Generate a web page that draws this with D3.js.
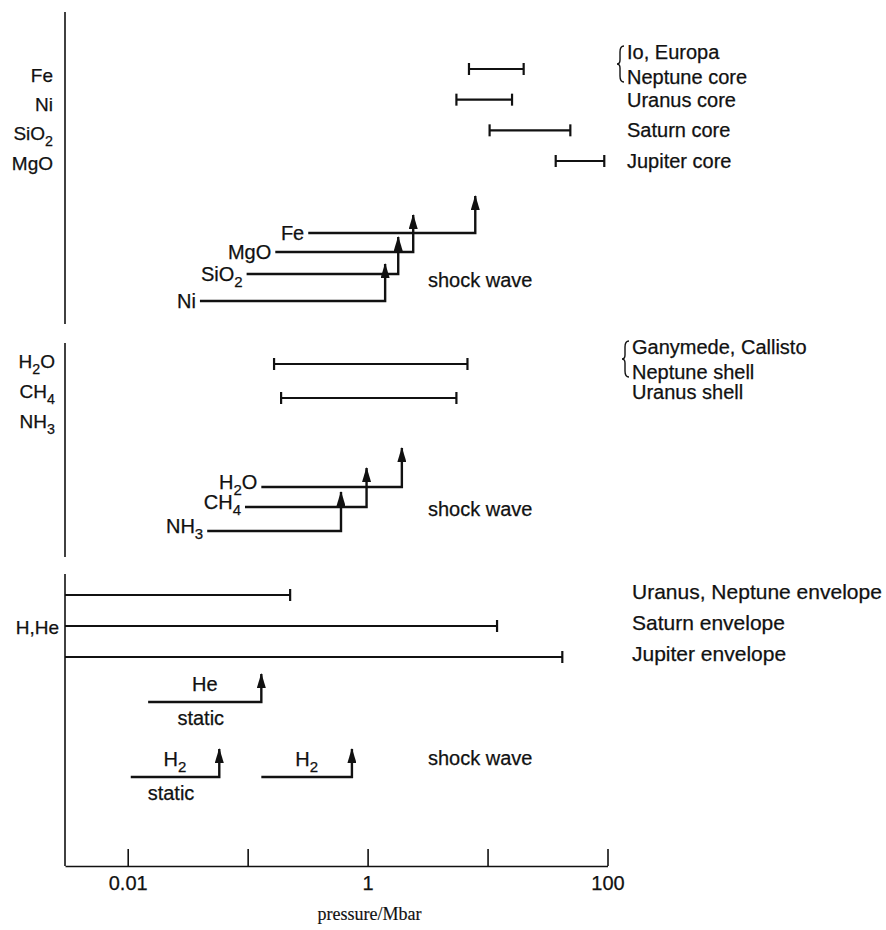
<!DOCTYPE html>
<html>
<head>
<meta charset="utf-8">
<script src="https://cdn.jsdelivr.net/npm/d3@7"></script>
<style>
body { margin: 0; background: #fff; }
svg text { font-family: 'Liberation Sans', Arial, sans-serif; fill: #111; stroke: #111; stroke-width: 0.25px; }
</style>
</head>
<body>
<div id="app"></div>
<script>
// values, pressure in Mbar
const xTicks = [0.01, 0.1, 1, 10, 100];
const xTickLabels = ['0.01', '', '1', '', '100'];

const coreMaterials = ['Fe', 'Ni', 'SiO2', 'MgO'];
const coreBodies = [['Io, Europa', 'Neptune core'], ['Uranus core'], ['Saturn core'], ['Jupiter core']];
const coreLow = [7, 5.5, 10.4, 37];
const coreHigh = [20, 16, 49, 94];
const coreShockNames = ['Fe', 'MgO', 'SiO2', 'Ni'];
const coreShockFrom = [0.32, 0.17, 0.098, 0.04];
const coreShockTo = [7.9, 2.4, 1.8, 1.4];

const shellMaterials = ['H2O', 'CH4', 'NH3'];
const shellBodies = [['Ganymede, Callisto', 'Neptune shell'], ['Uranus shell']];
const shellLow = [0.166, 0.19];
const shellHigh = [6.8, 5.5];
const shellShockNames = ['H2O', 'CH4', 'NH3'];
const shellShockFrom = [0.13, 0.095, 0.046];
const shellShockTo = [1.93, 0.98, 0.6];

const envMaterials = ['H,He'];
const envBodies = [['Uranus, Neptune envelope'], ['Saturn envelope'], ['Jupiter envelope']];
const envHigh = [0.226, 12, 42];
const envExpNames = ['He', 'H2', 'H2'];
const envExpKind = ['static', 'static', 'shock'];
const envExpFrom = [0.0148, 0.0106, 0.13];
const envExpTo = [0.13, 0.058, 0.74];

const width = 886;
const height = 930;
const ink = '#111';

const x = d3.scaleLog().domain([0.003, 100]).range([65, 607.5]);

const svg = d3.create('svg')
  .attr('width', width)
  .attr('height', height)
  .attr('viewBox', [0, 0, width, height]);

svg.append('rect').attr('width', width).attr('height', height).attr('fill', '#fff');

svg.append('defs').append('marker')
  .attr('id', 'head')
  .attr('viewBox', '0 -4.5 15 9')
  .attr('markerUnits', 'userSpaceOnUse')
  .attr('markerWidth', 15)
  .attr('markerHeight', 9)
  .attr('refX', 14)
  .attr('refY', 0)
  .attr('orient', 'auto')
  .append('path')
  .attr('d', 'M0,-4.5L15,0L0,4.5Z')
  .attr('fill', ink);

// chemical formula with subscript digits
function formula(text, str, size) {
  const parts = str.match(/[0-9]+|[^0-9]+/g);
  let low = false;
  parts.forEach((p)=>{
    const t = text.append('tspan').text(p);
    if (/^[0-9]+$/.test(p)) {
      t.attr('font-size', size * 0.75).attr('dy', size * 0.32);
      low = true;
    } else if (low) {
      t.attr('dy', -size * 0.32);
      low = false;
    }
  });
  return text;
}

function label(g, px, py, str, anchor, size) {
  const t = g.append('text')
    .attr('x', px)
    .attr('y', py)
    .attr('dy', '0.35em')
    .attr('text-anchor', anchor)
    .attr('font-size', size);
  return formula(t, str, size);
}

function brace(g, bx, y1, y2) {
  const m = (y1 + y2) / 2;
  g.append('path')
    .attr('d', `M${bx + 4},${y1} Q${bx},${y1} ${bx},${y1 + 6} L${bx},${m - 4} Q${bx},${m} ${bx - 3},${m} Q${bx},${m} ${bx},${m + 4} L${bx},${y2 - 6} Q${bx},${y2} ${bx + 4},${y2}`)
    .attr('fill', 'none')
    .attr('stroke', ink)
    .attr('stroke-width', 1.4);
}

function rangeBar(g, x0, x1, py, capLeft) {
  g.append('line').attr('x1', x0).attr('x2', x1).attr('y1', py).attr('y2', py);
  if (capLeft) g.append('line').attr('x1', x0).attr('x2', x0).attr('y1', py - 6).attr('y2', py + 6);
  g.append('line').attr('x1', x1).attr('x2', x1).attr('y1', py - 6).attr('y2', py + 6);
}

function arrow(g, x0, x1, py, len) {
  g.append('path')
    .attr('d', `M${x0},${py}H${x1}V${py - len}`)
    .attr('fill', 'none')
    .attr('marker-end', 'url(#head)');
}

function bodyLabels(g, bodies, rowY, bx, dy, size) {
  bodies.forEach((lines, i)=>{
    const cy = rowY(i);
    if (lines.length === 2) {
      const c = cy - 5;
      label(g, bx, c - 12.5, lines[0], 'start', size);
      label(g, bx, c + 12.5, lines[1], 'start', size);
      brace(g, bx - 7, c - 18, c + 18);
    } else {
      label(g, bx, cy + dy, lines[0], 'start', size);
    }
  });
}

const sections = [
  {
    axis: [12, 324],
    materials: coreMaterials, matY: [75, 163], matX: 53,
    bodies: coreBodies, low: coreLow, high: coreHigh, rowY: [69, 161], bodyX: 627, bodyDy: 0,
    shock: coreShockNames, from: coreShockFrom, to: coreShockTo,
    shockY: [233, 252, 274, 301], arrowLen: 37, shockDy: 0, shockTextY: 280,
  },
  {
    axis: [343, 557],
    materials: shellMaterials, matY: [361, 421], matX: 55,
    bodies: shellBodies, low: shellLow, high: shellHigh, rowY: [364, 398], bodyX: 632, bodyDy: -6,
    shock: shellShockNames, from: shellShockFrom, to: shellShockTo,
    shockY: [487, 507, 531], arrowLen: 39, shockDy: -5, shockTextY: 509,
  },
];

const marks = svg.append('g');

sections.forEach((s)=>{
  const g = marks.append('g');
  g.append('line')
    .attr('x1', x.range()[0]).attr('x2', x.range()[0])
    .attr('y1', s.axis[0]).attr('y2', s.axis[1])
    .attr('stroke', ink).attr('stroke-width', 1.6);

  const matY = d3.scalePoint().domain(s.materials).range(s.matY);
  s.materials.forEach((m)=>label(g, s.matX, matY(m), m, 'end', 19));

  const rowY = d3.scalePoint().domain(d3.range(s.bodies.length)).range(s.rowY);
  const bars = g.append('g').attr('stroke', ink).attr('stroke-width', 2.2);
  s.low.forEach((v, i)=>rangeBar(bars, x(v), x(s.high[i]), rowY(i), true));
  bodyLabels(g, s.bodies, rowY, s.bodyX, s.bodyDy, 20);

  const shockY = d3.scaleOrdinal().domain(s.shock).range(s.shockY);
  const arrows = g.append('g').attr('stroke', ink).attr('stroke-width', 2.4);
  s.shock.forEach((name, i)=>{
    arrow(arrows, x(s.from[i]), x(s.to[i]), shockY(name), s.arrowLen);
    label(g, x(s.from[i]) - 4, shockY(name) + s.shockDy, name, 'end', 20);
  });
  label(g, 428, s.shockTextY, 'shock wave', 'start', 20);
});

// bottom section: H, He envelopes
{
  const g = marks.append('g');
  const rowY = d3.scalePoint().domain(d3.range(envBodies.length)).range([595, 657]);
  const matY = d3.scalePoint().domain(envMaterials).range([627, 627]);
  envMaterials.forEach((m)=>label(g, 59, matY(m), m, 'end', 19));

  const bars = g.append('g').attr('stroke', ink).attr('stroke-width', 2.2);
  envHigh.forEach((v, i)=>rangeBar(bars, x.range()[0], x(v), rowY(i), false));
  bodyLabels(g, envBodies, rowY, 632, -3, 21);

  const expY = d3.scaleOrdinal().domain(['He', 'H2']).range([702, 777]);
  const arrows = g.append('g').attr('stroke', ink).attr('stroke-width', 2.4);
  envExpNames.forEach((name, i)=>{
    const x0 = x(envExpFrom[i]);
    const x1 = x(envExpTo[i]);
    const py = expY(name);
    arrow(arrows, x0, x1, py, 28);
    label(g, (x0 + x1) / 2, py - 18, name, 'middle', 20);
    if (envExpKind[i] === 'static') label(g, (x0 + x1) / 2 - 4, py + 16, 'static', 'middle', 20);
  });
  label(g, 428, 758, 'shock wave', 'start', 20);
}

// x axis with ticks pointing up
const axis = svg.append('g')
  .attr('transform', 'translate(0,866)')
  .call(d3.axisBottom(x)
    .tickValues(xTicks)
    .tickFormat((d, i)=>xTickLabels[i])
    .tickSize(-17)
    .tickSizeOuter(0)
    .tickPadding(10));
axis.select('.domain').attr('stroke', ink).attr('stroke-width', 1.6);
axis.selectAll('.tick line').attr('stroke', ink).attr('stroke-width', 1.6);
axis.selectAll('.tick text')
  .attr('font-family', "'Liberation Sans', Arial, sans-serif")
  .attr('font-size', 20)
  .attr('fill', ink);
// the bottom axis line starts at the left axis
svg.append('line')
  .attr('x1', x.range()[0]).attr('x2', x.range()[0])
  .attr('y1', 574).attr('y2', 866)
  .attr('stroke', ink).attr('stroke-width', 1.6);

svg.append('text')
  .attr('x', x(1) + 2)
  .attr('y', 920)
  .attr('text-anchor', 'middle')
  .attr('font-size', 18)
  .style('font-family', "'Liberation Serif', 'DejaVu Serif', serif")
  .style('stroke-width', '0.15px')
  .text('pressure/Mbar');

document.getElementById('app').appendChild(svg.node());
</script>
</body>
</html>
